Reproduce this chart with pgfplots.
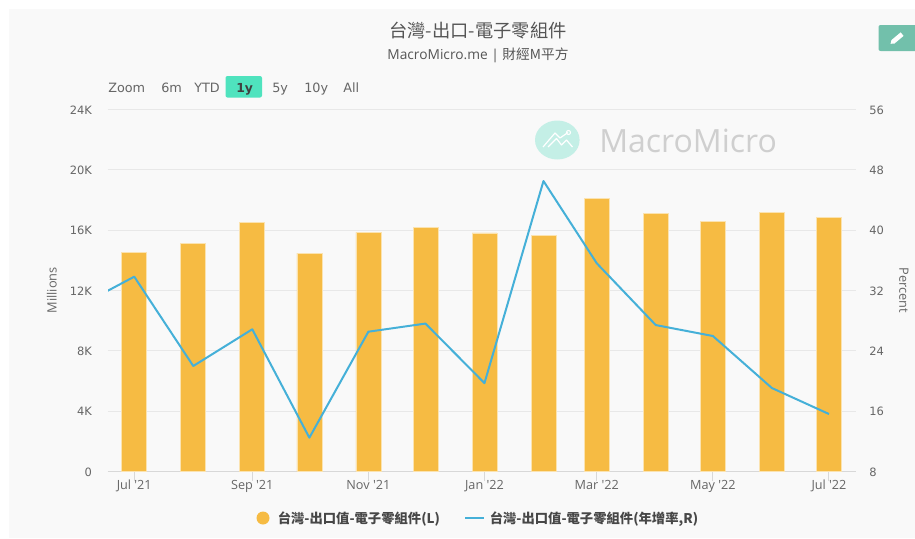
\documentclass[border=0pt]{standalone}
\usepackage{pgfplots}
\pgfplotsset{compat=1.18}
\usepackage{fontspec}
\setmainfont{Open Sans}
\newfontfamily\os{Open Sans}
\newfontfamily\cjk{Noto Sans CJK TC}
\newfontfamily\dv{DejaVu Sans}
\definecolor{panel}{HTML}{F9F9F9}
\definecolor{bar}{HTML}{F6BB43}
\definecolor{barb}{HTML}{FBE3B0}
\definecolor{ln}{HTML}{45B0D8}
\definecolor{gridc}{HTML}{E8E8E8}
\definecolor{axc}{HTML}{D8D8D8}
\definecolor{txt}{HTML}{666666}
\definecolor{ttl}{HTML}{555555}
\definecolor{mint}{HTML}{C4EFE6}
\definecolor{sel}{HTML}{4FE3BE}
\definecolor{edit}{HTML}{72C0AB}
\newcommand\fs[1]{\fontsize{#1}{#1}\selectfont}
\pgfplotstableread{
d v
0 14547
31 15144
62 16517
92 14481
123 15854
153 16186
184 15808
215 15655
243 18129
274 17101
304 16584
335 17181
365 16849
}\exports
\pgfplotstableread{
d g
-30 29.8
0 33.82
31 21.97
62 26.84
92 12.46
123 26.52
153 27.6
184 19.7
215 46.51
243 35.6
274 27.4
304 25.95
335 19.05
365 15.6
}\growth
\begin{document}
\begin{tikzpicture}
\useasboundingbox (0,0) rectangle (686.25pt,-404.25pt);
\fill[white] (0,0) rectangle (686.25pt,-404.25pt);
\begin{scope}[x=0.75pt,y=-0.75pt]
\fill[panel] (9,9) rectangle (915,538);
% watermark
\fill[mint] (557.3,140) ellipse [x radius=22.3,y radius=19.5];
\draw[white,line width=0.9pt,line join=round] (543,147)--(555,133)--(560,138)--(568,132.5);
\draw[white,line width=0.9pt,line join=round] (548,147)--(556.5,138.5)--(561.5,145)--(566.5,140)--(572.5,147);
\draw[white,line width=0.8pt] (568.5,132.5) circle [radius=2];
\node[anchor=west,inner sep=0pt,text=black!19] at (599,140.5) {\fs{24}MacroMicro};
% title
\node[text=ttl,inner sep=0pt] at (478,31) {\cjk\fs{13.7}台灣-出口-電子零組件};
\node[text=ttl,inner sep=0pt] at (478,55) {\fs{10.3}MacroMicro.me | {\cjk 財經M平方}};
% range selector
\fill[sel,rounded corners=1.5pt] (225.5,76) rectangle (262,97.5);
\foreach \xx/\tt in {108/Zoom,161/6m,194/YTD,272/5y,304/10y,343/All}
  \node[anchor=base west,inner sep=0pt,text=txt] at (\xx,92) {\dv\fs{9.6}\tt};
\node[anchor=base west,inner sep=0pt,text=black!75] at (236,92) {\dv\bfseries\fs{9.3}1y};
% edit button
\fill[edit,rounded corners=1.5pt] (878.5,25) rectangle (920,51);
\begin{scope}[shift={(897.5,38)},rotate=40]
\fill[white] (-6,-2.3) -- (6,-2.3) -- (6,2.3) -- (-6,2.3) -- (-9,0) -- cycle;
\end{scope}
\end{scope}
\begin{axis}[
  at={(81pt,-353.475pt)},anchor=south west,
  scale only axis,width=561pt,height=271.35pt,
  xmin=-13.8,xmax=379.2,ymin=0,ymax=24000,
  scaled y ticks=false,
  axis y line*=left,axis x line*=bottom,
  axis line style={draw=axc,line width=0.75pt},
  y axis line style={draw=none},
  ytick={0,4000,8000,12000,16000,20000,24000},
  yticklabels={0,4K,8K,12K,16K,20K,24K},
  xtick={0,62,123,184,243,304,365},
  xticklabels={Jul '21,Sep '21,Nov '21,Jan '22,Mar '22,May '22,Jul '22},
  ymajorgrids,grid style={draw=gridc,line width=0.75pt},
  major y tick style={draw=none},
  xtick style={draw=axc,line width=0.75pt},
  xtick align=outside,major tick length=7.5pt,
  xticklabel style={text=txt,font=\os\fs{9.5},yshift=4.5pt},
  yticklabel style={text=txt,font=\dv\fs{8.6},xshift=-8.5pt,yshift=-0.5pt},
  ylabel={Millions},ylabel style={text=txt,font=\fs{9.6},at={(ticklabel cs:0.5)},anchor=south,yshift=3pt},
  clip=true,
  ybar,bar width=13.1,
]
\addplot[fill=bar,draw=barb,line width=0.5pt] table[x=d,y=v] {\exports};
\end{axis}
\begin{axis}[
  at={(81pt,-353.475pt)},anchor=south west,
  scale only axis,width=561pt,height=271.35pt,
  xmin=-13.8,xmax=379.2,ymin=8,ymax=56,
  axis y line*=right,axis x line=none,
  y axis line style={draw=none},
  ytick={8,16,24,32,40,48,56},
  major y tick style={draw=none},
  yticklabel style={text=txt,font=\dv\fs{8.6},xshift=6.5pt,yshift=-0.5pt},
  /pgf/number format/assume math mode=true,
  ylabel={Percent},ylabel style={text=txt,font=\fs{9.6},at={(ticklabel cs:0.5)},rotate=180,anchor=south,yshift=4.5pt},
  clip=true,
]
\addplot[ln,line width=1.5pt,line join=round] table[x=d,y=g] {\growth};
\end{axis}
\begin{scope}[x=0.75pt,y=-0.75pt]
\fill[bar] (263,518) circle [radius=6.5];
\node[anchor=west,inner sep=0pt,text=black!72] at (277.5,519.5) {\cjk\bfseries\fs{10}台灣-出口值-電子零組件(L)};
\draw[ln,line width=1.5pt] (465,518)--(484,518);
\node[anchor=west,inner sep=0pt,text=black!72] at (489.5,519.5) {\cjk\bfseries\fs{10}台灣-出口值-電子零組件(年增率,R)};
\end{scope}
\end{tikzpicture}
\end{document}
